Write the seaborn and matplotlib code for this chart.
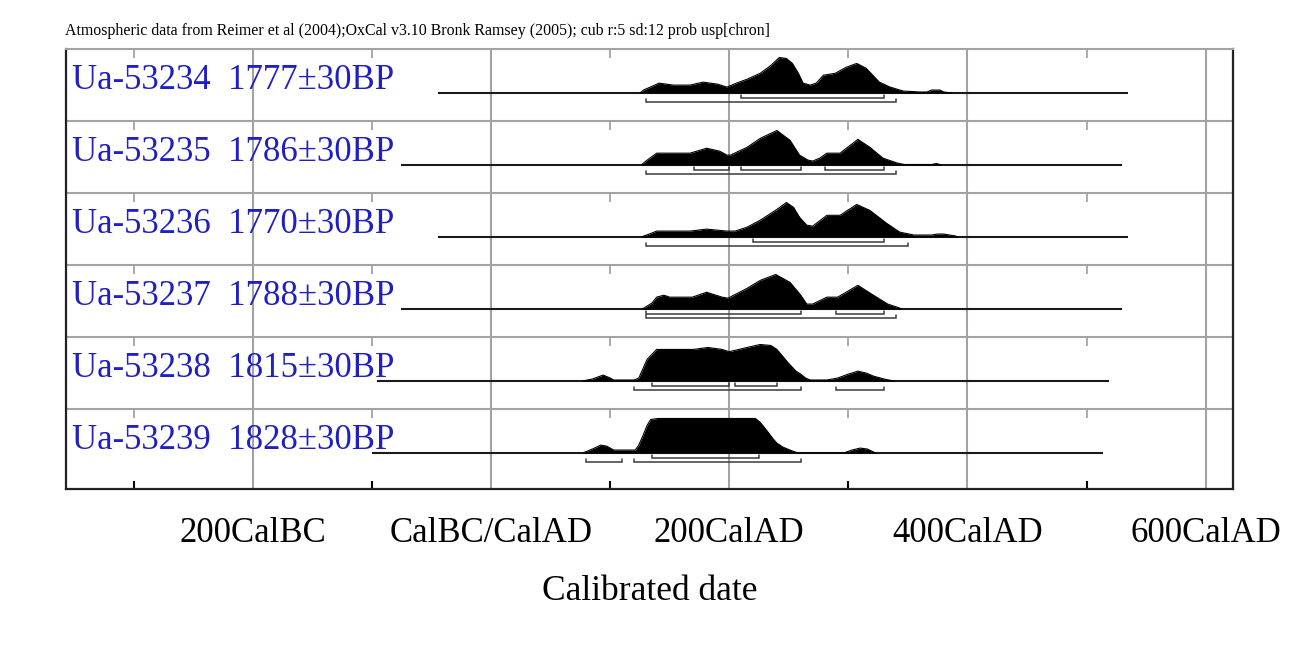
import numpy as np
import pandas as pd
import matplotlib
matplotlib.use("Agg")
import matplotlib.pyplot as plt
import matplotlib.transforms as mtransforms
import seaborn as sns

# ---------------- data ----------------
title_text = ("Atmospheric data from Reimer et al (2004);OxCal v3.10 Bronk Ramsey (2005); "
              "cub r:5 sd:12 prob usp[chron]")
sample_labels = ["Ua-53234  1777\u00b130BP", "Ua-53235  1786\u00b130BP", "Ua-53236  1770\u00b130BP",
                 "Ua-53237  1788\u00b130BP", "Ua-53238  1815\u00b130BP", "Ua-53239  1828\u00b130BP"]

# calibration range shown as the base line of each row (years, BC negative)
range_start = [-45, -76, -45, -76, -96, -100]
range_end = [535, 530, 535, 530, 519, 514]

# relative probability curves (calendar year, relative probability)
r1_years = [125, 128, 141, 153, 167, 178, 190, 198, 206, 215, 226, 235, 242, 248, 253, 258, 262, 268,
            273, 279, 289, 298, 307, 315, 326, 335, 346, 360, 366, 370, 377, 380, 387]
r1_prob = [0, 3, 10, 8, 8, 11, 9, 6, 10, 14, 20, 28, 36, 35, 30, 20, 10, 8,
           10, 18, 20, 26, 30, 25, 11, 6, 2, 1, 1, 3, 3, 1, 0]

r2_years = [126, 130, 139, 150, 167, 181, 192, 198, 201, 215, 226, 240, 251, 259, 266, 270, 276, 282,
            293, 308, 318, 329, 341, 347, 370, 374, 378]
r2_prob = [0, 4, 12, 12, 12, 17, 14, 10, 10, 18, 27, 35, 25, 10, 5, 4, 7, 12,
           12, 26, 18, 7, 2, 0.5, 0.5, 1.5, 0]

r3_years = [126, 135, 139, 167, 181, 198, 205, 215, 226, 240, 248, 254, 259, 265, 270, 282, 293, 307,
            318, 332, 343, 355, 370, 375, 380, 390, 392]
r3_prob = [0, 4, 6, 6, 8, 6, 6, 10, 17, 28, 35, 30, 20, 12, 11, 22, 22, 33,
           27, 14, 5, 2, 2, 3, 3, 1, 0]

r4_years = [127, 135, 139, 145, 150, 169, 181, 194, 199, 215, 226, 239, 251, 260, 265, 270, 282, 291,
            308, 321, 333, 343, 344]
r4_prob = [0, 6, 12, 14, 12, 12, 17, 12, 11, 21, 29, 35, 27, 14, 5, 5, 12, 12,
           24, 14, 5, 1, 0]

r5_years = [77, 85, 94, 100, 103, 120, 124, 131, 139, 150, 170, 182, 194, 199, 201, 215, 226, 235,
            240, 249, 256, 260, 264, 268, 282, 291, 300, 308, 315, 321, 330, 338]
r5_prob = [0, 2, 6, 3, 1, 1, 3, 22, 32, 32, 32, 34, 32, 30, 30, 34, 37, 36,
           32, 19, 10, 7, 3, 1, 1, 3, 7, 10, 8, 5, 2, 0]

r6_years = [77, 85, 92, 97, 103, 121, 124, 128, 131, 134, 140, 222, 226, 232, 237, 240, 245, 249,
            253, 258, 296, 303, 310, 316, 323]
r6_prob = [0, 4, 8, 7, 3, 3, 8, 19, 28, 34, 35, 35, 31, 22, 14, 10, 6, 4,
           2, 0, 0, 3, 5, 4, 0]

curve_years = [r1_years, r2_years, r3_years, r4_years, r5_years, r6_years]
curve_probs = [r1_prob, r2_prob, r3_prob, r4_prob, r5_prob, r6_prob]

# highest posterior density ranges (68.2% and 95.4%)
hpd68 = [[(210, 330)],
         [(170, 200), (210, 260), (280, 330)],
         [(220, 330)],
         [(130, 260), (290, 330)],
         [(135, 200), (205, 240)],
         [(135, 225)]]
hpd95 = [[(130, 340)],
         [(130, 340)],
         [(130, 350)],
         [(130, 340)],
         [(120, 260), (290, 330)],
         [(80, 110), (120, 260)]]

major_years = [-200, 0, 200, 400, 600]
major_labels = ["200CalBC", "CalBC/CalAD", "200CalAD", "400CalAD", "600CalAD"]
minor_years = [-300, -100, 100, 300, 500]

# ---------------- layout / style ----------------
ROW_H = 72.0
BASE_OFF = 44.0
PEAK_H = 36.5
TOTAL_H = 440.0
GRID_C = "#a3a3a3"
LABEL_C = "#1f1fc4"

sns.set_theme(style="white")
plt.rcParams["font.family"] = ["Liberation Serif", "DejaVu Serif"]

fig = plt.figure(figsize=(12.98, 6.45), dpi=100)
ax = fig.add_axes([66 / 1298, (645 - 489) / 645, (1233 - 66) / 1298, (489 - 49) / 645])
ax.set_xlim(-357, 623)
ax.set_ylim(TOTAL_H, 0)

max_prob = max(max(p) for p in curve_probs)
scale = PEAK_H / max_prob

# vertical grid lines (every 200 years)
for yr in major_years:
    ax.axvline(yr, color=GRID_C, lw=1.5, zorder=1)
# row separators
for i in range(1, len(sample_labels)):
    ax.axhline(i * ROW_H, color=GRID_C, lw=1.5, zorder=1)
# short ticks at the top of each row
for i in range(len(sample_labels)):
    ax.vlines(minor_years, i * ROW_H, i * ROW_H + 9, color=GRID_C, lw=1.3, zorder=1)

blend = mtransforms.blended_transform_factory(ax.transAxes, ax.transData)
for i, lab in enumerate(sample_labels):
    top = i * ROW_H
    base = top + BASE_OFF
    # label
    ax.text(0.005, top + 40, lab, transform=blend, ha="left", va="baseline",
            fontsize=25, color=LABEL_C, zorder=2)
    # base line over calibration range
    ax.hlines(base, range_start[i], range_end[i], color="#1a1a1a", lw=1.5, zorder=3)
    # distribution
    df = pd.DataFrame({"year": curve_years[i],
                       "y": base - np.array(curve_probs[i], dtype=float) * scale})
    ax.fill_between(df["year"], base, df["y"], color="black", lw=0, zorder=4)
    sns.lineplot(data=df, x="year", y="y", color="black", lw=0.8, ax=ax,
                 estimator=None, sort=False, zorder=4)
    # HPD brackets
    for off, ranges in ((4.5, hpd68[i]), (9.0, hpd95[i])):
        for a, b in ranges:
            yb = base + off
            ax.plot([a, a, b, b], [yb - 3, yb, yb, yb - 3], color="#3a3a3a", lw=1.1,
                    solid_joinstyle="miter", zorder=3)

# axes decoration
ax.set_xticks(major_years)
ax.set_xticklabels(major_labels, fontsize=25, color="black")
ax.set_xticks(minor_years, minor=True)
ax.tick_params(axis="x", which="major", length=0, pad=20)
ax.tick_params(axis="x", which="minor", direction="in", length=6, width=1.5, color="black",
               bottom=True)
ax.set_yticks([])
ax.set_xlabel("Calibrated date", fontsize=25.5, labelpad=18, color="black")
ax.set_ylabel("")
for side in ("left", "right", "bottom"):
    ax.spines[side].set_color("#222222")
    ax.spines[side].set_linewidth(1.6)
ax.spines["top"].set_color(GRID_C)
ax.spines["top"].set_linewidth(1.5)

fig.text(65 / 1298, (645 - 31) / 645, title_text, fontsize=11.4, ha="left", va="center",
         color="black")

fig.savefig("out.png", dpi=100, facecolor="white")
